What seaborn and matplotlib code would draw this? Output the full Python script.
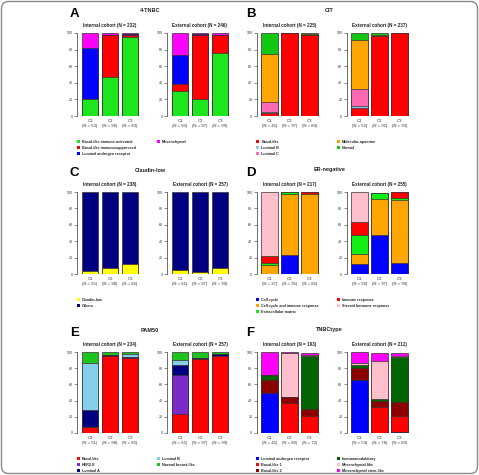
import numpy as np
import matplotlib
matplotlib.use("Agg")
import matplotlib.pyplot as plt
import seaborn as sns
from matplotlib.patches import Patch, FancyBboxPatch

W, H = 479, 475

# ---- colours ----
GREEN = "#1EE61E"
RED = "#FF0000"
BLUE = "#0000FF"
MAGENTA = "#FF00FF"
ORANGE = "#FFA500"
SKY = "#87CEEB"
HOTPINK = "#FF69B4"
PINK = "#FFC0CB"
NAVY = "#000080"
YELLOW = "#FFFF00"
PURPLE = "#7B2BC8"
DARKRED = "#8B0000"
DARKGREEN = "#006400"
EDGE = "#3a3030"

# ---- A: 4-TNBC ----
TNBC4_LABELS = ["Basal-like immune-activated", "Basal-like immunosuppressed",
                "Luminal androgen receptor", "Mesenchymal"]
TNBC4_COLORS = [GREEN, RED, BLUE, MAGENTA]
TNBC4_INT_N = [53, 96, 83]
TNBC4_INT = [[21, 47, 95], [0, 50, 3], [61, 0, 1], [18, 3, 1]]
TNBC4_EXT_N = [50, 97, 99]
TNBC4_EXT = [[30, 20, 76], [8, 78, 21], [36, 1, 0], [26, 1, 3]]

# ---- B: CIT ----
CIT_LABELS = ["Basal-like", "Luminal B", "Luminal C", "Molecular-apocrine", "Normal"]
CIT_COLORS = [RED, SKY, HOTPINK, ORANGE, "#11C711"]
CIT_INT_N = [45, 97, 83]
CIT_INT = [[4, 100, 98], [0.5, 0, 0], [12.5, 0, 0], [58, 0, 1], [25, 0, 1]]
CIT_EXT_N = [52, 92, 93]
CIT_EXT = [[10, 96, 100], [2, 0, 0], [21, 0, 0], [59, 1, 0], [8, 3, 0]]

# ---- C: Claudin-low ----
CL_LABELS = ["Claudin-low", "Others"]
CL_COLORS = [YELLOW, NAVY]
CL_INT_N = [55, 98, 85]
CL_INT = [[4, 7, 12], [96, 93, 88]]
CL_EXT_N = [61, 97, 99]
CL_EXT = [[5, 2, 7], [95, 98, 93]]

# ---- D: ER-negative ----
ER_LABELS = ["Cell cycle", "Cell cycle and immune response", "Extracellular matrix",
             "Immune response", "Steroid hormone response"]
ER_COLORS = [BLUE, ORANGE, "#11EE11", RED, PINK]
ER_INT_N = [37, 95, 85]
ER_INT = [[0, 23, 0], [11, 75, 98], [3, 2, 0], [8, 0, 2], [78, 0, 0]]
ER_EXT_N = [58, 97, 99]
ER_EXT = [[12, 48, 13], [12, 43, 77], [24, 8, 3], [15, 0, 7], [37, 0, 0]]

# ---- E: PAM50 ----
PAM_LABELS = ["Basal-like", "HER2-E", "Luminal A", "Luminal B", "Normal breast-like"]
PAM_COLORS = [RED, PURPLE, NAVY, SKY, "#1DC41D"]
PAM_INT_N = [51, 98, 85]
PAM_INT = [[8, 95, 93], [0, 0, 0], [20, 1, 1], [59, 0, 4], [13, 4, 2]]
PAM_EXT_N = [61, 97, 99]
PAM_EXT = [[23, 91, 95], [48, 0, 0], [13, 1, 2], [6, 0, 0], [10, 8, 3]]

# ---- F: TNBCtype ----
TT_LABELS = ["Luminal androgen receptor", "Basal-like 1", "Basal-like 2",
             "Immunomodulatory", "Mesenchymal-like", "Mesenchymal stem-like"]
TT_COLORS = [BLUE, RED, DARKRED, DARKGREEN, PINK, MAGENTA]
TT_INT_N = [41, 80, 72]
TT_INT = [[49, 0, 0], [0, 37.5, 21], [16, 6.5, 9], [6, 1, 65], [0, 54, 1], [29, 1, 3]]
TT_EXT_N = [54, 78, 80]
TT_EXT = [[65, 0, 1], [0, 32, 20], [15, 7, 17], [4, 3, 56], [2, 47, 1], [14, 10, 4]]


def px_axes(fig, left, top, bottom, width=66):
    return fig.add_axes([left / W, 1 - bottom / H, width / W, (bottom - top) / H])


def stacked(ax, values, ns, colors):
    ticks = [f"C{i + 1}\n(N = {n})" for i, n in enumerate(ns)]
    cum = np.cumsum(np.array(values, dtype=float), axis=0)
    # draw cumulative heights from the top layer down so each layer covers the one above
    for k in range(len(values) - 1, -1, -1):
        sns.barplot(x=ticks, y=cum[k], color=colors[k], saturation=1, width=0.83,
                    edgecolor=EDGE, linewidth=0.5, ax=ax)
    ax.set_xlim(-0.65, 2.65)
    ax.set_ylim(0, 100)
    ax.set_yticks(range(0, 101, 20))
    ax.set_xlabel("")
    ax.set_ylabel("")
    sns.despine(ax=ax, bottom=True)
    ax.spines["left"].set_linewidth(0.5)
    ax.spines["left"].set_color("#333333")
    ax.tick_params(axis="x", length=0, pad=2.5, labelsize=3.1, colors="#333333")
    ax.tick_params(axis="y", length=2, width=0.4, pad=1, labelsize=2.6, colors="#333333")
    for lab in ax.get_xticklabels():
        lab.set_linespacing(1.1)


def legend(fig, labels, colors, x, y, x2):
    handles = [Patch(facecolor=c, edgecolor="none") for c in colors]
    cols = [(handles[:3], labels[:3], x), (handles[3:], labels[3:], x2)]
    for hs, ls, xx in cols:
        if not hs:
            continue
        fig.legend(hs, ls, loc="upper left", bbox_to_anchor=(xx / W, 1 - y / H),
                   frameon=False, prop={"size": 2.7, "weight": "bold"},
                   handlelength=0.9, handleheight=0.9, handletextpad=0.5,
                   labelspacing=0.5, borderpad=0, borderaxespad=0)


sns.set_theme(style="ticks")
plt.rcParams["font.family"] = ["Liberation Sans", "DejaVu Sans"]

fig = plt.figure(figsize=(W / 100, H / 100), dpi=100)

ROWS = [(33, 116), (192, 274), (352, 433)]
COLS = [77, 167, 256.5, 346.5]

panels = [
    ("A", "4-TNBC", TNBC4_LABELS, TNBC4_COLORS, TNBC4_INT, TNBC4_INT_N, 232, TNBC4_EXT, TNBC4_EXT_N, 246),
    ("B", "CIT", CIT_LABELS, CIT_COLORS, CIT_INT, CIT_INT_N, 225, CIT_EXT, CIT_EXT_N, 237),
    ("C", "Claudin-low", CL_LABELS, CL_COLORS, CL_INT, CL_INT_N, 238, CL_EXT, CL_EXT_N, 257),
    ("D", "ER-negative", ER_LABELS, ER_COLORS, ER_INT, ER_INT_N, 217, ER_EXT, ER_EXT_N, 255),
    ("E", "PAM50", PAM_LABELS, PAM_COLORS, PAM_INT, PAM_INT_N, 234, PAM_EXT, PAM_EXT_N, 257),
    ("F", "TNBCtype", TT_LABELS, TT_COLORS, TT_INT, TT_INT_N, 193, TT_EXT, TT_EXT_N, 212),
]

for i, (letter, title, labels, colors, vin, nin, ntin, vex, nex, ntex) in enumerate(panels):
    row, side = divmod(i, 2)
    top, bottom = ROWS[row]
    c_int, c_ext = COLS[2 * side], COLS[2 * side + 1]

    ax1 = px_axes(fig, c_int, top, bottom)
    stacked(ax1, vin, nin, colors)
    ax1.set_title(f"Internal cohort (N = {ntin})", fontsize=3.3, fontweight="bold", pad=4)

    ax2 = px_axes(fig, c_ext, top, bottom)
    stacked(ax2, vex, nex, colors)
    ax2.set_title(f"External cohort (N = {ntex})", fontsize=3.3, fontweight="bold", pad=4)

    lx = 70 if side == 0 else 246.5
    tx = 150 if side == 0 else 329.5
    ty = top - 20
    fig.text(lx / W, 1 - (ty + 1) / H, letter, fontsize=9.5, fontweight="bold",
             ha="left", va="center", color="black")
    fig.text(tx / W, 1 - (ty - 2) / H, title, fontsize=4, fontweight="bold",
             ha="center", va="center", color="#222222")

    leg_y = bottom + 24
    legend(fig, labels, colors, 77 if side == 0 else 256, leg_y,
           157 if side == 0 else 337)

frame = FancyBboxPatch((1.5 / W, 1.5 / H), 1 - 3 / W, 1 - 3 / H,
                       boxstyle="round,pad=0,rounding_size=0.015",
                       transform=fig.transFigure, fill=False,
                       edgecolor="#8a8a8a", linewidth=1.0)
fig.patches.append(frame)

fig.savefig("out.png", dpi=100)
